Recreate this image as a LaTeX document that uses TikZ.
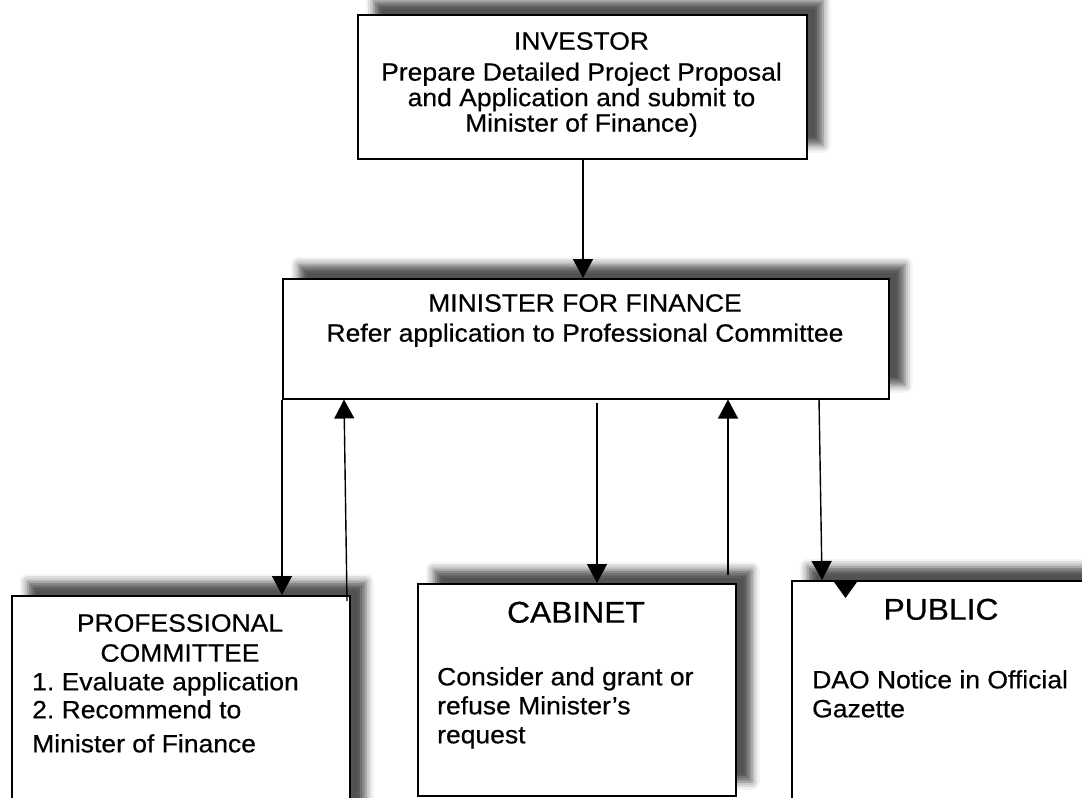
\documentclass[tikz,border=0pt]{standalone}
\usepackage{fontspec}
\setmainfont{Liberation Sans}[FakeStretch=1.06,FakeBold=0.5]
\usetikzlibrary{arrows.meta,shadows.blur,calc}
\frenchspacing
\begin{document}
\begin{tikzpicture}[x=1pt,y=-1pt,
  box/.style={draw=black, line width=1.5pt, fill=white, rectangle, inner sep=0pt, anchor=north west,
    blur shadow={shadow xshift=16pt, shadow yshift=14pt, shadow blur radius=8pt, shadow opacity=68}},
  arr/.style={line width=1.4pt, -{Triangle[length=19pt,width=20pt]}},
  txt/.style={inner sep=0pt, font=\fontsize{25}{28}\selectfont},
  ]
\useasboundingbox (0,0) rectangle (1082,798);
\begin{scope}
\clip (0,0) rectangle (1082,798);
% boxes
\node[box, minimum width=449pt, minimum height=144pt] (inv) at (357,14) {};
\node[box, minimum width=606pt, minimum height=120pt] (min) at (282,278) {};
\node[box, minimum width=338pt, minimum height=240pt] (prof) at (11,595) {};
\node[box, minimum width=318pt, minimum height=212pt] (cab) at (417,583) {};
\node[box, minimum width=320pt, minimum height=240pt] (pub) at (791,580) {};

% texts
\node[txt, anchor=north, align=center, font=\fontsize{25}{25.5}\selectfont] (invt) at (581.5,32)
  {INVESTOR\\[5.5pt]Prepare Detailed Project Proposal\\and Application and submit to\\Minister of Finance)};
\node[txt, anchor=north, align=center, font=\fontsize{25}{30}\selectfont] (mint) at (585,294)
  {MINISTER FOR FINANCE\\Refer application to Professional Committee};
\node[txt, anchor=north, align=center, font=\fontsize{25}{30}\selectfont] (proft) at (180,614)
  {PROFESSIONAL\\COMMITTEE};
\node[txt, anchor=north west, align=left, font=\fontsize{25}{28}\selectfont] (profb) at (32,672)
  {1. Evaluate application\\2. Recommend to\\[6pt]Minister of Finance};
\node[txt, anchor=north, font=\fontsize{30}{32}\selectfont] (cabt) at (576,601.5) {CABINET};
\node[txt, anchor=north west, align=left, font=\fontsize{25}{29}\selectfont] (cabb) at (437,667)
  {Consider and grant or\\refuse Minister’s\\request};
\node[txt, anchor=north, font=\fontsize{30}{32}\selectfont] (pubt) at (941,598.5) {PUBLIC};
\node[txt, anchor=north west, align=left, font=\fontsize{25}{29}\selectfont] (pubb) at (812,670)
  {DAO Notice in Official\\Gazette};

% connector coordinates
\coordinate (ax) at (583,0);
\coordinate (pu1) at (347,601);
\coordinate (pu2) at (344,0);
\coordinate (cd1) at (597,403);
\coordinate (cu1) at (728,575);
\coordinate (pd1) at (819,398);
\coordinate (pd2) at (822,0);

\draw[arr] (inv.south -| ax) -- (min.north -| ax);
\draw[arr] (min.south west) -- (prof.north -| min.south west);
\draw[arr] (pu1) -- (min.south -| pu2);
\draw[arr] (cd1) -- (cab.north -| cd1);
\draw[arr] (cu1) -- (min.south -| cu1);
\draw[arr] (pd1) -- (pub.north -| pd2);
\fill (834,582) -- (857,582) -- (845.5,598) -- cycle;
\end{scope}
\end{tikzpicture}
\end{document}
